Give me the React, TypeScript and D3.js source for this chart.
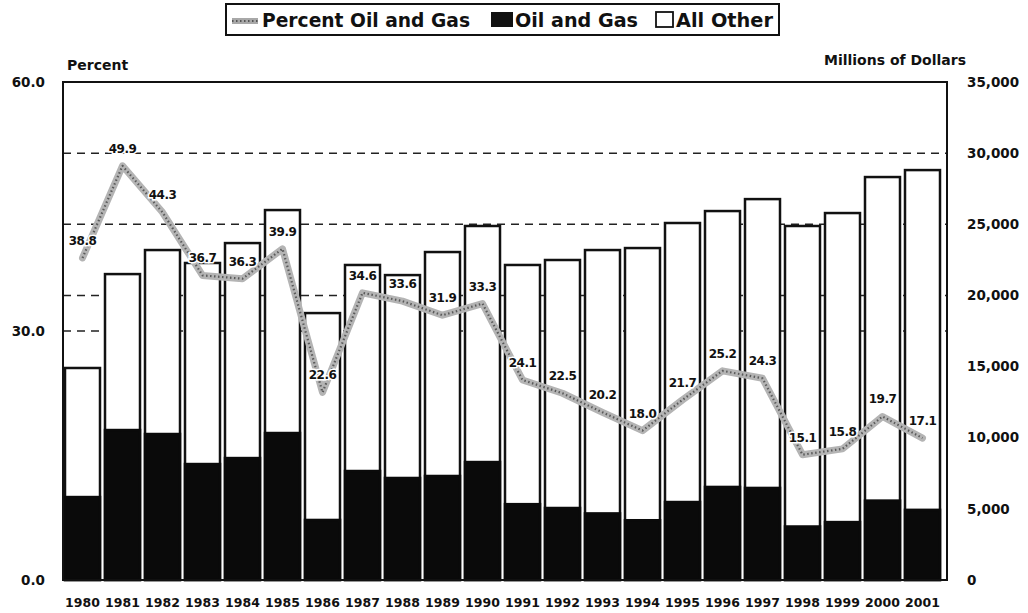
import React from "react";
import * as d3 from "d3";

const years = ["1980","1981","1982","1983","1984","1985","1986","1987","1988","1989","1990","1991","1992","1993","1994","1995","1996","1997","1998","1999","2000","2001"];
const oilGas = [5830,10540,10260,8150,8570,10330,4220,7660,7170,7310,8290,5330,5060,4680,4200,5480,6540,6470,3760,4070,5580,4930];
const allOther = [9070,10960,12930,14130,15110,15670,14540,14480,14260,15740,16590,16810,17430,18510,19130,19610,19390,20300,21120,21720,22740,23880];
const percentOilGas = [38.8,49.9,44.3,36.7,36.3,39.9,22.6,34.6,33.6,31.9,33.3,24.1,22.5,20.2,18.0,21.7,25.2,24.3,15.1,15.8,19.7,17.1];
const leftTicks = [0, 30, 60];
const rightTicks = [0, 5000, 10000, 15000, 20000, 25000, 30000, 35000];
const rightGrid = [20000, 25000, 30000];
const leftGrid = [30];
const legendLabels = ["Percent Oil and Gas", "Oil and Gas", "All Other"];

const FONT = "'DejaVu Sans', Verdana, sans-serif";

export default function App() {
  const W = 1028, H = 613;
  const left = 63, right = 947, top = 82, bottom = 580;
  const x = d3.scaleBand<string>().domain(years).range([left, 942]).paddingInner(0.125).paddingOuter(0.05);
  const yL = d3.scaleLinear().domain([0, 60]).range([bottom, top]);
  const yR = d3.scaleLinear().domain([0, 35000]).range([bottom, top]);
  const fmtR = d3.format(",");
  const cx = (yr: string) => (x(yr) as number) + x.bandwidth() / 2;
  const line = d3.line<number>().x((_, i) => cx(years[i])).y((v) => yL(v)).curve(d3.curveLinear);
  const path = line(percentOilGas) || "";

  return (
    <svg width={W} height={H} style={{ position: "absolute", left: 0, top: 0, background: "#fff" }} fontFamily={FONT}>
      <rect x={0} y={0} width={W} height={H} fill="#fff" />
      {/* legend */}
      <g>
        <rect x={226} y={4} width={553} height={31} fill="#fff" stroke="#111" strokeWidth={2} />
        <line x1={232} x2={258} y1={21} y2={21} stroke="#a8a8a8" strokeWidth={6} />
        <line x1={232} x2={258} y1={21} y2={21} stroke="#555" strokeWidth={2} strokeDasharray="1.5 2.5" />
        <text x={262} y={27} fontSize={19} fontWeight="bold" fill="#111" textLength={208} lengthAdjust="spacingAndGlyphs">{legendLabels[0]}</text>
        <rect x={491} y={12} width={22} height={15} fill="#111" />
        <text x={515} y={27} fontSize={19} fontWeight="bold" fill="#111" textLength={123} lengthAdjust="spacingAndGlyphs">{legendLabels[1]}</text>
        <rect x={656} y={12} width={17} height={15} fill="#fff" stroke="#111" strokeWidth={1.8} />
        <text x={676} y={27} fontSize={19} fontWeight="bold" fill="#111" textLength={97} lengthAdjust="spacingAndGlyphs">{legendLabels[2]}</text>
      </g>
      {/* axis titles */}
      <text x={67} y={70} fontSize={14} fontWeight="bold" fill="#111">Percent</text>
      <text x={966} y={65} fontSize={14} fontWeight="bold" fill="#111" textAnchor="end">Millions of Dollars</text>
      {/* gridlines */}
      {rightGrid.map((v) => (
        <line key={"rg" + v} x1={left} x2={right} y1={yR(v)} y2={yR(v)} stroke="#222" strokeWidth={1.5} strokeDasharray="8 6" />
      ))}
      {leftGrid.map((v) => (
        <line key={"lg" + v} x1={left} x2={right} y1={yL(v)} y2={yL(v)} stroke="#222" strokeWidth={1.5} strokeDasharray="8 6" />
      ))}
      {/* bars */}
      {years.map((yr, i) => {
        const bx = x(yr) as number;
        const total = oilGas[i] + allOther[i];
        return (
          <g key={yr}>
            <rect x={bx} y={yR(total)} width={x.bandwidth()} height={bottom - yR(total)} fill="#fff" stroke="#111" strokeWidth={2.5} />
            <rect x={bx} y={yR(oilGas[i])} width={x.bandwidth()} height={bottom - yR(oilGas[i])} fill="#0a0a0a" stroke="#0a0a0a" strokeWidth={2.5} />
          </g>
        );
      })}
      {/* frame */}
      <rect x={left} y={top} width={right - left} height={bottom - top} fill="none" stroke="#111" strokeWidth={2} />
      {/* percent line */}
      <path d={path} fill="none" stroke="#b4b4b4" strokeWidth={7} strokeLinejoin="round" strokeLinecap="round" />
      <path d={path} fill="none" stroke="#5a5a5a" strokeWidth={2.2} strokeDasharray="1.5 2.5" strokeLinejoin="round" />
      {/* labels */}
      {percentOilGas.map((v, i) => (
        <text key={"pl" + i} x={cx(years[i])} y={yL(v) - 13} fontSize={12} fontWeight="bold" fill="#111" textAnchor="middle"
          stroke="#fff" strokeWidth={3} paintOrder="stroke" letterSpacing={-0.5}>{v.toFixed(1)}</text>
      ))}
      {/* left ticks */}
      {leftTicks.map((v) => (
        <text key={"lt" + v} x={45} y={yL(v)} dy="0.35em" fontSize={13.5} fontWeight="bold" fill="#111" textAnchor="end">{v.toFixed(1)}</text>
      ))}
      {/* right ticks */}
      {rightTicks.map((v) => (
        <text key={"rt" + v} x={967} y={yR(v)} dy="0.35em" fontSize={13.5} fontWeight="bold" fill="#111" textAnchor="start">{fmtR(v)}</text>
      ))}
      {/* x labels */}
      {years.map((yr) => (
        <text key={"xl" + yr} x={cx(yr)} y={607} fontSize={12.5} fontWeight="bold" fill="#111" textAnchor="middle">{yr}</text>
      ))}
    </svg>
  );
}
